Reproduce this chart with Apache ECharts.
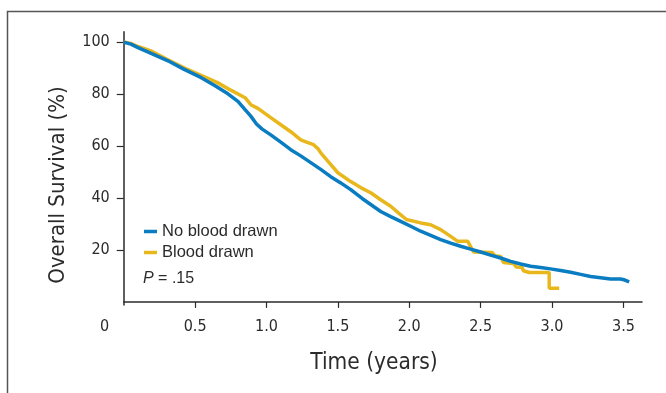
<!DOCTYPE html>
<html>
<head>
<meta charset="utf-8">
<script src="https://cdn.jsdelivr.net/npm/echarts@6/dist/echarts.min.js"></script>
<style>
  html, body { margin: 0; padding: 0; background: #fff; }
  #chart { width: 666px; height: 393px; }
</style>
</head>
<body>
<div id="chart"></div>
<script>
// Kaplan-Meier curves: [years, survival %]
const noBloodDrawn = [
  [0, 100], [0.05, 99.2], [0.1, 97.9], [0.2, 95.5], [0.31, 92.8], [0.42, 89.6],
  [0.54, 86.4], [0.64, 83.2], [0.73, 80.1], [0.8, 77.2], [0.85, 74], [0.89, 71.5],
  [0.93, 68.5], [0.97, 66.5], [1.03, 64.3], [1.1, 61.5], [1.17, 58.6], [1.24, 56.2],
  [1.31, 53.6], [1.38, 51], [1.45, 48.2], [1.52, 45.8], [1.59, 43.2], [1.67, 39.8],
  [1.75, 36.7], [1.8, 34.8], [1.87, 32.8], [1.94, 31], [2.01, 29.1], [2.08, 27.2],
  [2.15, 25.6], [2.22, 24], [2.29, 22.6], [2.36, 21.4], [2.43, 20.3], [2.5, 19.2],
  [2.57, 18], [2.64, 16.9], [2.71, 15.6], [2.78, 14.6], [2.85, 13.7], [2.92, 13.2],
  [2.99, 12.7], [3.06, 12.1], [3.13, 11.4], [3.2, 10.6], [3.27, 9.8], [3.34, 9.3],
  [3.41, 8.8], [3.48, 8.8], [3.51, 8.4], [3.54, 7.7]
];
const bloodDrawn = [
  [0, 100], [0.05, 99.5], [0.1, 98.3], [0.19, 96.6], [0.3, 93.5], [0.43, 89.9],
  [0.55, 87], [0.66, 84.3], [0.75, 81.5], [0.85, 78.6], [0.89, 75.9], [0.94, 74.5],
  [1.03, 70.9], [1.1, 68.2], [1.17, 65.5], [1.24, 62.4], [1.29, 61.3], [1.33, 60.5],
  [1.36, 59], [1.38, 57.4], [1.44, 53.5], [1.5, 49.7], [1.59, 46.3], [1.66, 44],
  [1.73, 42], [1.8, 39.3], [1.87, 36.8], [1.93, 34], [1.98, 31.7], [2.08, 30.4],
  [2.15, 29.7], [2.22, 27.8], [2.29, 25.2], [2.34, 23.3], [2.41, 23.3], [2.45, 19.2],
  [2.58, 19.0], [2.6, 17.8], [2.64, 17.5], [2.66, 15.2], [2.73, 14.8], [2.75, 13.4],
  [2.79, 13.2], [2.8, 12], [2.84, 11.3], [2.98, 11.3], [2.98, 5.2], [3.05, 5.2]
];
const xTicks = [0.5, 1, 1.5, 2, 2.5, 3, 3.5];
const xLabels = [0, 0.5, 1, 1.5, 2, 2.5, 3, 3.5];
const yTicks = [20, 40, 60, 80, 100];

const BLUE = '#0a7cc2';
const YELLOW = '#e8b71c';
const INK = '#2b2b2b';
const NARROW = '"Liberation Sans Narrow", "DejaVu Sans Condensed", sans-serif';
const SANS = '"Liberation Sans", Arial, sans-serif';

const chart = echarts.init(document.getElementById('chart'), null, { renderer: 'canvas' });
chart.setOption({
  animation: false,
  backgroundColor: '#fff',
  grid: { left: 123.7, right: 24, top: 31.7, bottom: 88 },
  xAxis: {
    type: 'value',
    min: 0,
    max: 3.63,
    splitLine: { show: false },
    axisLine: { lineStyle: { color: INK, width: 1.5 } },
    axisTick: { customValues: xTicks, length: 6, lineStyle: { color: INK, width: 1.2 } },
    axisLabel: {
      customValues: xLabels,
      margin: 14,
      fontFamily: NARROW,
      fontSize: 16,
      color: INK,
      formatter: (v) => (v === 0 ? '{z|0}' : v.toFixed(1)),
      rich: { z: { fontFamily: NARROW, fontSize: 16, color: INK, padding: [0, 38, 0, 0] } }
    }
  },
  yAxis: {
    type: 'value',
    min: -1.2,
    max: 104,
    splitLine: { show: false },
    axisLine: { lineStyle: { color: INK, width: 1.5 } },
    axisTick: { customValues: yTicks, length: 7, lineStyle: { color: INK, width: 1.2 } },
    axisLabel: { customValues: yTicks, margin: 14, fontFamily: NARROW, fontSize: 16, color: INK }
  },
  legend: {
    orient: 'vertical',
    left: 139,
    top: 218,
    icon: 'rect',
    itemWidth: 13,
    itemHeight: 3.5,
    itemGap: 4,
    textStyle: { fontFamily: SANS, fontSize: 16.5, color: INK },
    data: ['No blood drawn', 'Blood drawn']
  },
  graphic: [
    {
      type: 'rect',
      shape: { x: 7.5, y: 11.5, width: 720, height: 420 },
      style: { fill: 'none', stroke: '#555', lineWidth: 1.5 },
      silent: true
    },
    {
      type: 'text',
      left: 143,
      top: 271,
      style: {
        text: '{i|P} = .15',
        font: '16px ' + SANS,
        fill: INK,
        rich: { i: { fontStyle: 'italic', fontFamily: SANS, fontSize: 16, fill: INK } }
      }
    },
    {
      type: 'text',
      x: 58,
      y: 185,
      rotation: Math.PI / 2,
      style: {
        text: 'Overall Survival (%)',
        font: '22px ' + NARROW,
        fill: INK,
        align: 'center',
        verticalAlign: 'middle'
      }
    },
    {
      type: 'text',
      x: 374,
      y: 363,
      style: {
        text: 'Time (years)',
        font: '22.5px ' + NARROW,
        fill: INK,
        align: 'center',
        verticalAlign: 'middle'
      }
    }
  ],
  series: [
    {
      name: 'No blood drawn',
      type: 'line',
      data: noBloodDrawn,
      showSymbol: false,
      color: BLUE,
      lineStyle: { color: BLUE, width: 3.5 },
      z: 3
    },
    {
      name: 'Blood drawn',
      type: 'line',
      data: bloodDrawn,
      showSymbol: false,
      color: YELLOW,
      lineStyle: { color: YELLOW, width: 3.5 },
      z: 2
    }
  ]
});
</script>
</body>
</html>
